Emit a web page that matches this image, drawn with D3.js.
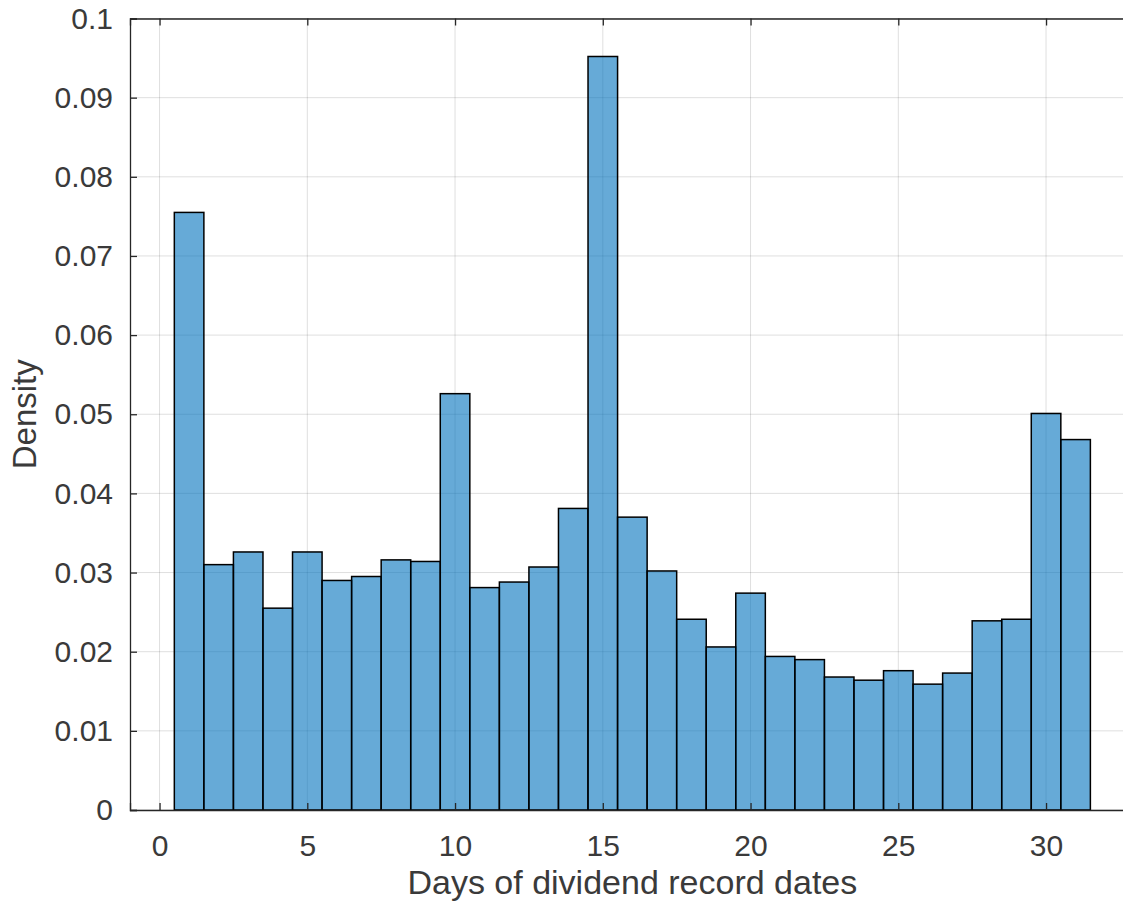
<!DOCTYPE html>
<html>
<head>
<meta charset="utf-8">
<script src="https://cdn.jsdelivr.net/npm/d3@7"></script>
<style>
  body { margin: 0; background: #fff; }
  svg { display: block; font-family: "Liberation Sans", Arial, sans-serif; }
</style>
</head>
<body>
<div class="canvas"></div>
<script>
// bin centres (days 1..31), density per bin
const days = d3.range(1, 32);
const density = [
    0.0755, 0.0310, 0.0326, 0.0255, 0.0326, 0.0290, 0.0295, 0.0316, 0.0314, 0.0526,
    0.0281, 0.0288, 0.0307, 0.0381, 0.0952, 0.0370, 0.0302, 0.0241, 0.0206, 0.0274,
    0.0194, 0.0190, 0.0168, 0.0164, 0.0176, 0.0159, 0.0173, 0.0239, 0.0241, 0.0501,
    0.0468
];
const xTicks = [0, 5, 10, 15, 20, 25, 30];
const yTicks = d3.range(0, 0.1001, 0.01);

const dims = { width: 1123, height: 911 };
const margin = { left: 130, top: 18.5, bottom: 810 };
const unit = 29.55;

const svg = d3.select('.canvas')
    .append('svg')
    .attr('width', dims.width)
    .attr('height', dims.height)
;

const x = d3.scaleLinear().domain([-1, 33]).range([margin.left, margin.left + 34 * unit]);
const y = d3.scaleLinear().domain([0, 0.1]).range([margin.bottom, margin.top]);

const ink = '#262626';
const textInk = '#3a3a3a';

// grid
const grid = svg.append('g').attr('stroke', '#262626').attr('stroke-opacity', 0.15).attr('stroke-width', 1);
grid.selectAll('.gx').data(xTicks).enter().append('line')
    .attr('x1', d => x(d)).attr('x2', d => x(d))
    .attr('y1', y(0)).attr('y2', y(0.1));
grid.selectAll('.gy').data(yTicks).enter().append('line')
    .attr('x1', x(-1)).attr('x2', x(33))
    .attr('y1', d => y(d)).attr('y2', d => y(d));

// bars
svg.append('g').selectAll('rect')
    .data(days.map((d, i) => ({ day: d, v: density[i] })))
    .enter().append('rect')
    .attr('x', d => x(d.day - 0.5))
    .attr('width', d => x(d.day + 0.5) - x(d.day - 0.5))
    .attr('y', d => y(d.v))
    .attr('height', d => y(0) - y(d.v))
    .attr('fill', 'rgb(0,114,189)')
    .attr('fill-opacity', 0.6)
    .attr('stroke', '#000')
    .attr('stroke-width', 1.5)
;

// axes (MATLAB style: ticks inside)
const xAxis = d3.axisBottom(x).tickValues(xTicks).tickSize(-7).tickPadding(25).tickFormat(d3.format('d'));
const yAxis = d3.axisLeft(y).tickValues(yTicks).tickSize(-7).tickPadding(17).tickFormat(d => d === 0 ? '0' : d3.format('.2~f')(d));

const gx = svg.append('g').attr('transform', `translate(0, ${y(0)})`).call(xAxis);
const gy = svg.append('g').attr('transform', `translate(${x(-1)}, 0)`).call(yAxis);
const gxTop = svg.append('g').attr('transform', `translate(0, ${y(0.1)})`)
    .call(d3.axisTop(x).tickValues(xTicks).tickSize(-7).tickFormat(''));

[gx, gy, gxTop].forEach(g => {
    g.select('.domain').attr('stroke', ink).attr('stroke-width', 1.3);
    g.selectAll('.tick line').attr('stroke', ink).attr('stroke-width', 1.3);
    g.selectAll('text').attr('fill', textInk).style('font-size', '30px')
        .style('font-family', '"Liberation Sans", Arial, sans-serif');
});

svg.append('text')
    .attr('x', x(16))
    .attr('y', 894)
    .attr('text-anchor', 'middle')
    .attr('fill', textInk)
    .style('font-size', '34px')
    .text('Days of dividend record dates');

svg.append('text')
    .attr('transform', `translate(36, ${y(0.05)}) rotate(-90)`)
    .attr('text-anchor', 'middle')
    .attr('fill', textInk)
    .style('font-size', '33px')
    .text('Density');
</script>
</body>
</html>
